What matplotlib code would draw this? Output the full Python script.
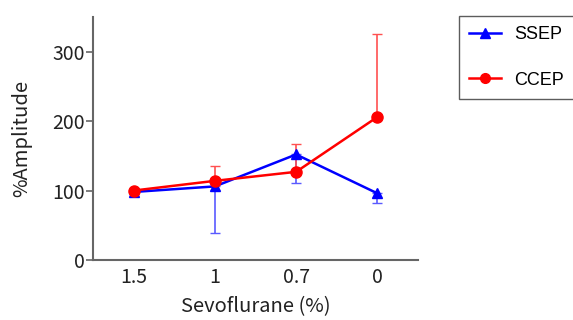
import matplotlib
matplotlib.use("Agg")
import matplotlib.pyplot as plt
from matplotlib.lines import Line2D

categories = ["1.5", "1", "0.7", "0"]
ssep = [98, 106, 152, 96]
ssep_err_low = [0, 67, 41, 14]
ccep = [100, 114, 127, 206]
ccep_err_high = [0, 22, 40, 120]

jp = ["Noto Sans CJK JP", "DejaVu Sans"]

fig = plt.figure(figsize=(5.73, 3.2), dpi=100)
ax = fig.add_axes([93 / 573, 60 / 320, 325 / 573, 243 / 320])

x = range(len(categories))
ax.errorbar(x, ssep, yerr=[ssep_err_low, [0] * 4], color="#0000ff", marker="^",
            markersize=7, linewidth=1.8, capsize=3.5, elinewidth=1.2, ecolor="#5a5aff")
ax.errorbar(x, ccep, yerr=[[0] * 4, ccep_err_high], color="#ff0000", marker="o",
            markersize=8, linewidth=1.8, capsize=3.5, elinewidth=1.2, ecolor="#ff5050")

ax.set_xlim(-0.5, 3.5)
ax.set_ylim(0, 350)
ax.set_xticks(list(x))
ax.set_xticklabels(categories, family=jp, fontsize=14)
ax.set_yticks([0, 100, 200, 300])
ax.set_yticklabels(["0", "100", "200", "300"], family=jp, fontsize=14)
ax.tick_params(axis="x", length=0, pad=5, colors="#222222")
ax.tick_params(axis="y", length=5, width=1.2, color="#666666", pad=1, labelcolor="#222222")

for s in ["top", "right"]:
    ax.spines[s].set_visible(False)
for s in ["left", "bottom"]:
    ax.spines[s].set_color("#666666")
    ax.spines[s].set_linewidth(1.5)

ax.set_xlabel("Sevoflurane (%)", family=jp, fontsize=14.5, color="#222222", labelpad=6)
ax.set_ylabel("%Amplitude", family=jp, fontsize=14.5, color="#222222", labelpad=14)

handles = [
    Line2D([], [], color="#0000ff", marker="^", markersize=7, linewidth=1.8),
    Line2D([], [], color="#ff0000", marker="o", markersize=7, linewidth=1.8),
]
leg = fig.legend(handles, ["SSEP", "CCEP"], loc="upper left",
                 bbox_to_anchor=(459 / 573, 1 - 16 / 320),
                 frameon=True, fancybox=False, handlelength=1.8, handletextpad=0.7,
                 borderpad=0.55, labelspacing=1.6, borderaxespad=0,
                 prop={"family": "Liberation Sans", "size": 13})
leg.get_frame().set_edgecolor("#333333")
leg.get_frame().set_linewidth(1)

fig.savefig("out.png", dpi=100)
